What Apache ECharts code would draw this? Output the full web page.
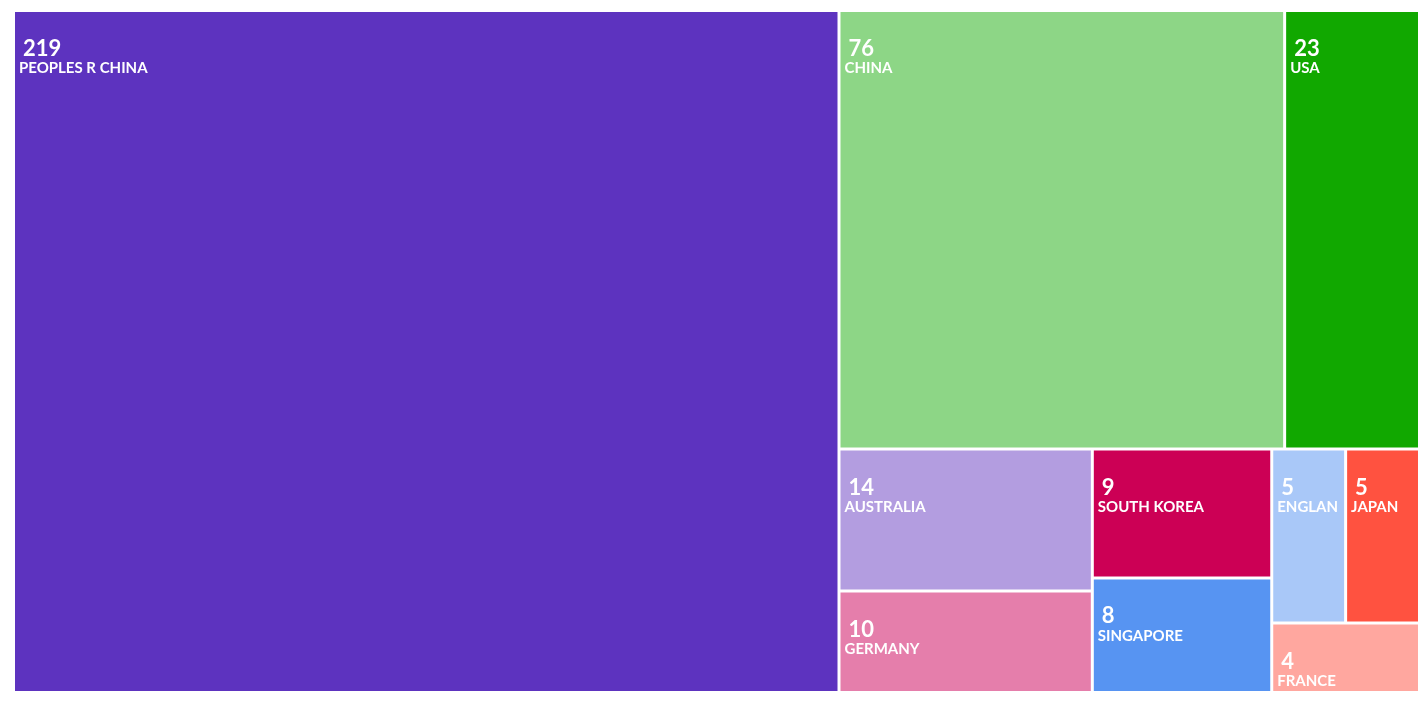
<!DOCTYPE html>
<html>
<head>
<meta charset="utf-8">
<script src="https://cdn.jsdelivr.net/npm/echarts@6/dist/echarts.min.js"></script>
<style>html,body{margin:0;padding:0;background:#fff}#chart{width:1426px;height:704px}</style>
</head>
<body>
<div id="chart"></div>
<script>
const countries = ['PEOPLES R CHINA', 'CHINA', 'USA', 'AUSTRALIA', 'GERMANY', 'SOUTH KOREA', 'SINGAPORE', 'ENGLAND', 'JAPAN', 'FRANCE'];
const counts = [219, 76, 23, 14, 10, 9, 8, 5, 5, 4];
const colors = ['#5d33bf', '#8dd686', '#11a800', '#b39de0', '#e57eab', '#cc0055', '#5794f2', '#a9c8f8', '#ff5240', '#ffa79f'];

const chart = echarts.init(document.getElementById('chart'));
chart.setOption({
    animation: false,
    series: [{
        type: 'treemap',
        left: 15, right: 8, top: 12, bottom: 13,
        roam: false,
        nodeClick: false,
        sort: false,
        breadcrumb: { show: false },
        levels: [{ itemStyle: { borderWidth: 0, gapWidth: 3 } }],
        label: {
            show: true,
            position: 'insideTopLeft',
            padding: [26, 0, 0, 4],
            fontFamily: 'Lato',
            overflow: 'truncate',
            ellipsis: '',
            formatter: p => '{v|' + p.value + '}\n{n|' + p.name + '}',
            rich: {
                v: { fontSize: 22, fontWeight: 'bold', color: '#fff', fontFamily: 'Lato', padding: [0, 0, 0, 4], lineHeight: 22 },
                n: { fontSize: 15, fontWeight: 'bold', color: '#fff', fontFamily: 'Lato', lineHeight: 17 }
            }
        },
        data: countries.map((c, i) => ({ name: c, value: counts[i], itemStyle: { color: colors[i] } }))
    }]
});
</script>
</body>
</html>
